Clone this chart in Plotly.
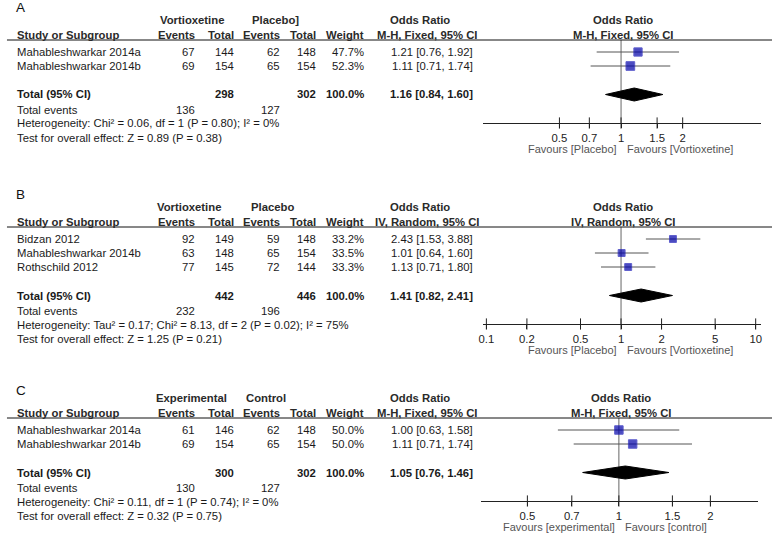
import math
import plotly.graph_objects as go

W, H = 773, 534
FONT = "Liberation Sans, Arial, sans-serif"

# ---------------- data ----------------
A_studies = ["Mahableshwarkar 2014a", "Mahableshwarkar 2014b"]
A_ev1 = [67, 69]
A_tot1 = [144, 154]
A_ev2 = [62, 65]
A_tot2 = [148, 154]
A_weight = [47.7, 52.3]
A_or = [1.21, 1.11]
A_lo = [0.76, 0.71]
A_hi = [1.92, 1.74]
A_total = [298, 302]
A_total_or = [1.16, 0.84, 1.60]
A_total_events = [136, 127]
A_het = "Heterogeneity: Chi² = 0.06, df = 1 (P = 0.80); I² = 0%"
A_test = "Test for overall effect: Z = 0.89 (P = 0.38)"
A_groups = ["Vortioxetine", "Placebo]"]
A_method = "M-H, Fixed, 95% CI"
A_ticks = [0.5, 0.7, 1, 1.5, 2]
A_tick_labels = ["0.5", "0.7", "1", "1.5", "2"]
A_favours = ["Favours [Placebo]", "Favours [Vortioxetine]"]

B_studies = ["Bidzan 2012", "Mahableshwarkar 2014b", "Rothschild 2012"]
B_ev1 = [92, 63, 77]
B_tot1 = [149, 148, 145]
B_ev2 = [59, 65, 72]
B_tot2 = [148, 154, 144]
B_weight = [33.2, 33.5, 33.3]
B_or = [2.43, 1.01, 1.13]
B_lo = [1.53, 0.64, 0.71]
B_hi = [3.88, 1.60, 1.80]
B_total = [442, 446]
B_total_or = [1.41, 0.82, 2.41]
B_total_events = [232, 196]
B_het = "Heterogeneity: Tau² = 0.17; Chi² = 8.13, df = 2 (P = 0.02); I² = 75%"
B_test = "Test for overall effect: Z = 1.25 (P = 0.21)"
B_groups = ["Vortioxetine", "Placebo"]
B_method = "IV, Random, 95% CI"
B_ticks = [0.1, 0.2, 0.5, 1, 2, 5, 10]
B_tick_labels = ["0.1", "0.2", "0.5", "1", "2", "5", "10"]
B_favours = ["Favours [Placebo]", "Favours [Vortioxetine]"]

C_studies = ["Mahableshwarkar 2014a", "Mahableshwarkar 2014b"]
C_ev1 = [61, 69]
C_tot1 = [146, 154]
C_ev2 = [62, 65]
C_tot2 = [148, 154]
C_weight = [50.0, 50.0]
C_or = [1.00, 1.11]
C_lo = [0.63, 0.71]
C_hi = [1.58, 1.74]
C_total = [300, 302]
C_total_or = [1.05, 0.76, 1.46]
C_total_events = [130, 127]
C_het = "Heterogeneity: Chi² = 0.11, df = 1 (P = 0.74); I² = 0%"
C_test = "Test for overall effect: Z = 0.32 (P = 0.75)"
C_groups = ["Experimental", "Control"]
C_method = "M-H, Fixed, 95% CI"
C_ticks = [0.5, 0.7, 1, 1.5, 2]
C_tick_labels = ["0.5", "0.7", "1", "1.5", "2"]
C_favours = ["Favours [experimental]", "Favours [control]"]

# ---------------- layout helpers ----------------
def px(x):
    return x / W


def py(y):
    return 1 - y / H


ann = []
shapes = []


def text(x, y, s, anchor="left", bold=False, size=11.3, color="#1a1a1a"):
    if bold:
        s = "<b>" + s + "</b>"
    ann.append(dict(x=px(x), y=py(y), xref="paper", yref="paper", text=s,
                    showarrow=False, xanchor=anchor, yanchor="middle",
                    borderpad=0, borderwidth=0,
                    font=dict(family=FONT, size=size, color=color)))


panels = [
    dict(letter="A", letter_y=7, line=40, axis=123, studies=A_studies, ev1=A_ev1, tot1=A_tot1,
         ev2=A_ev2, tot2=A_tot2, weight=A_weight, orr=A_or, lo=A_lo, hi=A_hi,
         total=A_total, total_or=A_total_or, tev=A_total_events, het=A_het,
         test=A_test, groups=A_groups, grp_x=(157, 250), method=A_method,
         ticks=A_ticks, tick_labels=A_tick_labels, favours=A_favours,
         xdom=(482, 762), xrange=(-0.675, 0.684), null_px=621),
    dict(letter="B", letter_y=194, line=227, axis=324, studies=B_studies, ev1=B_ev1, tot1=B_tot1,
         ev2=B_ev2, tot2=B_tot2, weight=B_weight, orr=B_or, lo=B_lo, hi=B_hi,
         total=B_total, total_or=B_total_or, tev=B_total_events, het=B_het,
         test=B_test, groups=B_groups, grp_x=(154, 249), method=B_method,
         ticks=B_ticks, tick_labels=B_tick_labels, favours=B_favours,
         xdom=(482, 762), xrange=(-1.026, 1.04), null_px=621),
    dict(letter="C", letter_y=390, line=418, axis=501, studies=C_studies, ev1=C_ev1, tot1=C_tot1,
         ev2=C_ev2, tot2=C_tot2, weight=C_weight, orr=C_or, lo=C_lo, hi=C_hi,
         total=C_total, total_or=C_total_or, tev=C_total_events, het=C_het,
         test=C_test, groups=C_groups, grp_x=(153, 244), method=C_method,
         ticks=C_ticks, tick_labels=C_tick_labels, favours=C_favours,
         xdom=(480, 759), xrange=(-0.454, 0.458), null_px=619),
]

# column anchors (right aligned)
X_NAME = 13
X_EV1, X_TOT1, X_EV2, X_TOT2, X_W, X_OR = 192, 232, 278, 314, 362, 472
HEAD_COL = "#2a2a2a"
SQUARE = "#0000a8"

fig = go.Figure()
layout_axes = {}

for k, p in enumerate(panels, start=1):
    L = p["line"]
    n = len(p["studies"])
    row_off = [12 + 14 * i for i in range(n)]
    tot_off = row_off[-1] + 28.5
    tev_y = L + tot_off + 15
    het_y = tev_y + 14
    test_y = het_y + 14
    span = p["axis"] - L

    # panel letter and headers
    text(12, p["letter_y"], p["letter"], size=13.5, color="#111")
    text(p["grp_x"][0], L - 20, p["groups"][0], bold=True, color=HEAD_COL)
    text(p["grp_x"][1], L - 20, p["groups"][1], bold=True, color=HEAD_COL)
    text(419, L - 20, "Odds Ratio", anchor="center", bold=True, color=HEAD_COL)
    text(p["null_px"] + 2, L - 20, "Odds Ratio", anchor="center", bold=True, color=HEAD_COL)
    text(X_NAME, L - 5, "Study or Subgroup", bold=True, color=HEAD_COL)
    text(X_EV1, L - 5, "Events", anchor="right", bold=True, color=HEAD_COL)
    text(X_TOT1, L - 5, "Total", anchor="right", bold=True, color=HEAD_COL)
    text(X_EV2, L - 5, "Events", anchor="right", bold=True, color=HEAD_COL)
    text(X_TOT2, L - 5, "Total", anchor="right", bold=True, color=HEAD_COL)
    text(X_W, L - 5, "Weight", anchor="right", bold=True, color=HEAD_COL)
    text(426, L - 5, p["method"], anchor="center", bold=True, color=HEAD_COL)
    text(p["null_px"] + 2, L - 5, p["method"], anchor="center", bold=True, color=HEAD_COL)

    shapes.append(dict(type="line", xref="paper", yref="paper", x0=px(3), x1=1,
                       y0=py(L), y1=py(L), line=dict(color="#111", width=1)))

    # study rows
    for i, s in enumerate(p["studies"]):
        y = L + row_off[i]
        text(X_NAME, y, s)
        text(X_EV1, y, str(p["ev1"][i]), anchor="right")
        text(X_TOT1, y, str(p["tot1"][i]), anchor="right")
        text(X_EV2, y, str(p["ev2"][i]), anchor="right")
        text(X_TOT2, y, str(p["tot2"][i]), anchor="right")
        text(X_W, y, f"{p['weight'][i]:.1f}%", anchor="right")
        text(X_OR, y, f"{p['orr'][i]:.2f} [{p['lo'][i]:.2f}, {p['hi'][i]:.2f}]", anchor="right")

    # totals
    ty = L + tot_off
    text(X_NAME, ty, "Total (95% CI)", bold=True)
    text(X_TOT1, ty, str(p["total"][0]), anchor="right", bold=True)
    text(X_TOT2, ty, str(p["total"][1]), anchor="right", bold=True)
    text(X_W, ty, "100.0%", anchor="right", bold=True)
    to = p["total_or"]
    text(X_OR, ty, f"{to[0]:.2f} [{to[1]:.2f}, {to[2]:.2f}]", anchor="right", bold=True)
    text(X_NAME, tev_y, "Total events")
    text(X_EV1, tev_y, str(p["tev"][0]), anchor="right")
    text(X_EV2, tev_y, str(p["tev"][1]), anchor="right")
    text(X_NAME, het_y, p["het"])
    text(X_NAME, test_y, p["test"])

    # favours labels
    fav_y = p["axis"] + 26
    text(p["null_px"] - 4, fav_y, p["favours"][0], anchor="right", size=11, color="#555")
    text(p["null_px"] + 6, fav_y, p["favours"][1], anchor="left", size=11, color="#555")

    xa = "x" if k == 1 else f"x{k}"
    ya = "y" if k == 1 else f"y{k}"

    # null line
    fig.add_trace(go.Scatter(x=[1, 1], y=[0, span], mode="lines", xaxis=xa, yaxis=ya,
                             line=dict(color="#666", width=1), hoverinfo="skip",
                             showlegend=False, cliponaxis=False))
    # CI lines
    cx, cy = [], []
    for i in range(n):
        cx += [p["lo"][i], p["hi"][i], None]
        cy += [row_off[i], row_off[i], None]
    fig.add_trace(go.Scatter(x=cx, y=cy, mode="lines", xaxis=xa, yaxis=ya,
                             line=dict(color="#555", width=1), hoverinfo="skip",
                             showlegend=False, cliponaxis=False))
    # squares
    fig.add_trace(go.Scatter(x=p["orr"], y=row_off, mode="markers", xaxis=xa, yaxis=ya,
                             marker=dict(symbol="square", color=SQUARE,
                                         size=[1.2 * math.sqrt(w) for w in p["weight"]],
                                         line=dict(color="#1c1cb8", width=1)),
                             showlegend=False, cliponaxis=False))
    # diamond
    hh = 6.5
    fig.add_trace(go.Scatter(x=[to[1], to[0], to[2], to[0], to[1]],
                             y=[tot_off, tot_off - hh, tot_off, tot_off + hh, tot_off],
                             mode="lines", fill="toself", fillcolor="#000",
                             line=dict(color="#000", width=1), xaxis=xa, yaxis=ya,
                             showlegend=False, hoverinfo="skip", cliponaxis=False))
    # upward halves of the cross-shaped ticks
    fig.add_trace(go.Scatter(x=p["ticks"], y=[span] * len(p["ticks"]), mode="markers",
                             xaxis=xa, yaxis=ya,
                             marker=dict(symbol="line-ns", size=8,
                                         line=dict(color="#222", width=1)),
                             showlegend=False, hoverinfo="skip", cliponaxis=False))

    layout_axes["xaxis" if k == 1 else f"xaxis{k}"] = dict(
        domain=[px(p["xdom"][0]), px(p["xdom"][1])], anchor=ya, type="log",
        range=list(p["xrange"]), showline=True, linecolor="#222", linewidth=1,
        ticks="outside", ticklen=4, tickcolor="#222", tickwidth=1,
        tickmode="array", tickvals=p["ticks"], ticktext=p["tick_labels"],
        tickfont=dict(family=FONT, size=11.3, color="#222"),
        showgrid=False, zeroline=False, fixedrange=True)
    layout_axes["yaxis" if k == 1 else f"yaxis{k}"] = dict(
        domain=[py(p["axis"]), py(L)], anchor=xa, range=[span, 0],
        visible=False, showgrid=False, zeroline=False, fixedrange=True)

fig.update_layout(
    width=W, height=H, margin=dict(l=0, r=0, t=0, b=0),
    paper_bgcolor="white", plot_bgcolor="white",
    annotations=ann, shapes=shapes, showlegend=False,
    font=dict(family=FONT, size=11.3, color="#1a1a1a"),
    **layout_axes,
)

fig.write_html(
    "out.html",
    config={"displayModeBar": False},
    post_script="document.body.style.margin='0';document.body.style.overflow='hidden';",
)
